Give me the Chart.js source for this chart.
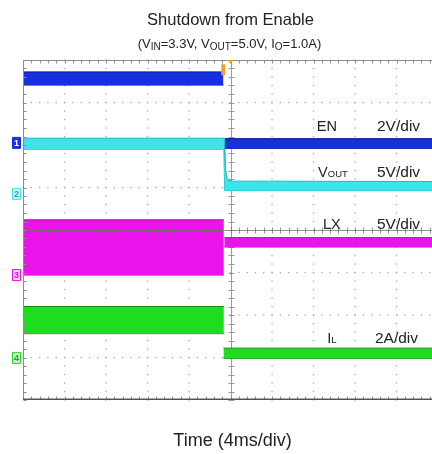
<!DOCTYPE html>
<html><head><meta charset="utf-8">
<script src="https://cdn.jsdelivr.net/npm/chart.js@4.4.1/dist/chart.umd.min.js"></script>
<style>
html,body{margin:0;padding:0;background:#fff;overflow:hidden;}
#wrap{width:432px;height:454px;overflow:hidden;position:relative;}
canvas{display:block;}
</style></head><body>
<div id="wrap"><canvas id="c" width="440" height="454"></canvas></div>
<script>
// Oscilloscope capture, values in screen divisions (x: 0..10 div @ 4ms/div, y: 0..8 div)
const enBeforeX  = [0, 4.83];
const enBeforeHi = [7.72, 7.72];
const enBeforeLo = [7.41, 7.41];
const enAfterX   = [4.86, 10];
const enAfterHi  = [6.15, 6.15];
const enAfterLo  = [5.92, 5.92];

const voutHiX = [0, 4.85, 4.87, 4.9, 4.95, 5.05, 10];
const voutHi  = [6.16, 6.16, 5.6, 5.25, 5.17, 5.15, 5.14];
const voutMidX = [0, 4.855, 4.875, 4.91, 4.97, 5.1, 10];
const voutMid  = [6.04, 6.04, 5.4, 5.13, 5.07, 5.06, 5.06];
const voutLoX = [0, 4.84, 4.86, 10];
const voutLo  = [5.9, 5.9, 4.93, 4.93];

const lxBeforeX  = [0, 4.84];
const lxBeforeHi = [4.24, 4.24];
const lxBeforeLo = [2.94, 2.94];
const lxAfterX   = [4.85, 10];
const lxAfterHi  = [3.82, 3.82];
const lxAfterLo  = [3.6, 3.6];

const ilBeforeX  = [0, 4.84];
const ilBeforeHi = [2.2, 2.2];
const ilBeforeLo = [1.56, 1.56];
const ilAfterX   = [4.83, 10];
const ilAfterHi  = [1.22, 1.22];
const ilAfterLo  = [0.98, 0.98];

const chanNames  = ['1', '2', '3', '4'];
const chanLevels = [6.05, 4.85, 2.94, 0.99];
const triggerTime = 4.85;

const FONT = "'Liberation Sans', Arial, sans-serif";
const COL = {
  en:   {fill: '#1530dc', edge: '#0a1890', light: '#1530dc', text: '#ffffff'},
  vout: {fill: '#3ee4ea', edge: '#1fb8be', light: '#c8f6f8', text: '#1aa8b0'},
  lx:   {fill: '#ea14ea', edge: '#a0149c', light: '#f8d0f8', text: '#c020c0'},
  il:   {fill: '#1edc1e', edge: '#109010', light: '#d0f4d0', text: '#20a020'}
};

function pts(xs, ys) { return xs.map((v, i) => ({x: v, y: ys[i]})); }
function band(xsHi, hi, xsLo, lo, c) {
  return [
    {data: pts(xsHi, hi), borderColor: c.edge, borderWidth: 1, backgroundColor: c.fill, fill: '+1', pointRadius: 0},
    {data: pts(xsLo, lo), borderColor: c.edge, borderWidth: 1, backgroundColor: c.fill, fill: false, pointRadius: 0}
  ];
}

const datasets = [
  ...band(ilBeforeX, ilBeforeHi, ilBeforeX, ilBeforeLo, COL.il),
  ...band(ilAfterX, ilAfterHi, ilAfterX, ilAfterLo, COL.il),
  ...band(lxBeforeX, lxBeforeHi, lxBeforeX, lxBeforeLo, COL.lx),
  ...band(lxAfterX, lxAfterHi, lxAfterX, lxAfterLo, COL.lx),
  ...band(voutHiX, voutHi, voutLoX, voutLo, COL.vout),
  {data: pts(voutMidX, voutMid), borderColor: '#14959a', borderWidth: 1.2, fill: false, pointRadius: 0},
  ...band(enBeforeX, enBeforeHi, enBeforeX, enBeforeLo, COL.en),
  ...band(enAfterX, enAfterHi, enAfterX, enAfterLo, COL.en)
];

function rich(ctx, segs, x, y, align) {
  let w = 0;
  segs.forEach(s => { ctx.font = s.size + 'px ' + FONT; s.w = ctx.measureText(s.t).width; w += s.w; });
  let cx = align === 'center' ? x - w / 2 : x;
  segs.forEach(s => { ctx.font = s.size + 'px ' + FONT; ctx.fillText(s.t, cx, y + (s.dy || 0)); cx += s.w; });
}

const graticule = {
  id: 'graticule',
  beforeDatasetsDraw(chart) {
    const {ctx, chartArea: a, scales: {x, y}} = chart;
    ctx.save();
    ctx.fillStyle = '#a6a6a6';
    for (let i = 1; i < 10; i++) {
      if (i === 5) continue;
      const px = x.getPixelForValue(i);
      for (let k = 0; k <= 40; k++) ctx.fillRect(px - 0.6, y.getPixelForValue(k * 0.2) - 0.6, 1.3, 1.3);
    }
    for (let j = 1; j < 8; j++) {
      if (j === 4) continue;
      const py = y.getPixelForValue(j);
      for (let k = 0; k <= 50; k++) ctx.fillRect(x.getPixelForValue(k * 0.2) - 0.6, py - 0.6, 1.3, 1.3);
    }
    ctx.strokeStyle = '#9a9a9a';
    ctx.lineWidth = 1;
    const cx = Math.round(x.getPixelForValue(5)) + 0.5;
    ctx.beginPath(); ctx.moveTo(cx, a.top); ctx.lineTo(cx, a.bottom);
    for (let k = 0; k <= 40; k++) { const py = Math.round(y.getPixelForValue(k * 0.2)) + 0.5; ctx.moveTo(cx - 3, py); ctx.lineTo(cx + 3, py); }
    ctx.stroke();
    ctx.restore();
  },
  afterDatasetsDraw(chart) {
    const {ctx, chartArea: a, scales: {x, y}} = chart;
    ctx.save();
    ctx.strokeStyle = 'rgba(110,110,110,0.75)';
    ctx.lineWidth = 1;
    const cy = Math.round(y.getPixelForValue(4)) + 0.5;
    ctx.beginPath(); ctx.moveTo(a.left, cy); ctx.lineTo(a.right, cy);
    for (let k = 0; k <= 50; k++) { const px = Math.round(x.getPixelForValue(k * 0.2)) + 0.5; ctx.moveTo(px, cy - 3); ctx.lineTo(px, cy + 3); }
    ctx.stroke();
    ctx.strokeStyle = '#8c8c8c';
    ctx.beginPath();
    const L = Math.round(a.left) + 0.5, T = Math.round(a.top) + 0.5, B = Math.round(a.bottom) - 0.5, R = Math.round(a.right) - 0.5;
    ctx.moveTo(L, T); ctx.lineTo(R, T); ctx.moveTo(L, T); ctx.lineTo(L, B);
    for (let k = 0; k <= 50; k++) { const px = Math.round(x.getPixelForValue(k * 0.2)) + 0.5; ctx.moveTo(px, T); ctx.lineTo(px, T + 3); ctx.moveTo(px, B); ctx.lineTo(px, B - 3); }
    for (let k = 0; k <= 40; k++) { const py = Math.round(y.getPixelForValue(k * 0.2)) + 0.5; ctx.moveTo(L, py); ctx.lineTo(L + 3, py); }
    ctx.stroke();
    ctx.strokeStyle = '#555';
    ctx.lineWidth = 1.6;
    ctx.beginPath(); ctx.moveTo(a.left, a.bottom - 0.8); ctx.lineTo(a.right, a.bottom - 0.8); ctx.stroke();

    const tx = x.getPixelForValue(triggerTime);
    ctx.fillStyle = '#f0a030';
    ctx.fillRect(tx - 3, y.getPixelForValue(7.9), 4, 11);
    ctx.beginPath();
    const cx5 = x.getPixelForValue(5);
    ctx.moveTo(cx5 - 3, a.top); ctx.lineTo(cx5 + 3, a.top); ctx.lineTo(cx5, a.top + 4); ctx.closePath(); ctx.fill();

    const cols = [COL.en, COL.vout, COL.lx, COL.il];
    chanLevels.forEach((lv, i) => {
      const py = y.getPixelForValue(lv);
      const c = cols[i];
      ctx.fillStyle = c.light;
      ctx.strokeStyle = c.fill;
      ctx.lineWidth = 1;
      ctx.beginPath(); ctx.rect(a.left - 10.5, py - 5.5, 8, 11); ctx.fill(); ctx.stroke();
      ctx.fillStyle = c.text;
      ctx.font = 'bold 9px ' + FONT;
      ctx.textAlign = 'center'; ctx.textBaseline = 'middle';
      ctx.fillText(chanNames[i], a.left - 6.5, py + 0.5);
    });

    ctx.textAlign = 'left'; ctx.textBaseline = 'alphabetic';
    ctx.fillStyle = '#222';
    rich(ctx, [{t: 'EN', size: 14.5}], x.getPixelForValue(7.08), y.getPixelForValue(6.33));
    rich(ctx, [{t: '2V/div', size: 15.5}], x.getPixelForValue(8.53), y.getPixelForValue(6.33));
    rich(ctx, [{t: 'V', size: 14.5}, {t: 'OUT', size: 9.5}], x.getPixelForValue(7.11), y.getPixelForValue(5.25));
    rich(ctx, [{t: '5V/div', size: 15.5}], x.getPixelForValue(8.53), y.getPixelForValue(5.25));
    rich(ctx, [{t: 'LX', size: 14.5}], x.getPixelForValue(7.23), y.getPixelForValue(4.02));
    rich(ctx, [{t: '5V/div', size: 15.5}], x.getPixelForValue(8.53), y.getPixelForValue(4.02));
    rich(ctx, [{t: 'I', size: 14.5}, {t: 'L', size: 9.5}], x.getPixelForValue(7.33), y.getPixelForValue(1.34));
    rich(ctx, [{t: '2A/div', size: 15.5}], x.getPixelForValue(8.48), y.getPixelForValue(1.34));
    ctx.restore();
  },
  afterDraw(chart) {
    const {ctx, chartArea: a, scales: {x}} = chart;
    ctx.save();
    ctx.fillStyle = '#222';
    ctx.textBaseline = 'alphabetic';
    const mid = x.getPixelForValue(5);
    rich(ctx, [{t: 'Shutdown from Enable', size: 16.5}], mid, 25, 'center');
    rich(ctx, [
      {t: '(V', size: 13}, {t: 'IN', size: 10, dy: 2},
      {t: '=3.3V, V', size: 13}, {t: 'OUT', size: 10, dy: 2},
      {t: '=5.0V, I', size: 13}, {t: 'O', size: 10, dy: 2},
      {t: '=1.0A)', size: 13}
    ], mid - 1, 48, 'center');
    rich(ctx, [{t: 'Time (4ms/div)', size: 18}], mid + 2, a.bottom + 46, 'center');
    ctx.restore();
  }
};

new Chart(document.getElementById('c'), {
  type: 'line',
  data: {datasets},
  options: {
    responsive: false,
    devicePixelRatio: 1,
    animation: false,
    layout: {padding: {left: 23, top: 60, right: 2, bottom: 54}},
    plugins: {legend: {display: false}, tooltip: {enabled: false}, title: {display: false}},
    elements: {line: {tension: 0}},
    scales: {
      x: {type: 'linear', min: 0, max: 10, display: false},
      y: {type: 'linear', min: 0, max: 8, display: false}
    }
  },
  plugins: [graticule]
});
</script>
</body></html>
